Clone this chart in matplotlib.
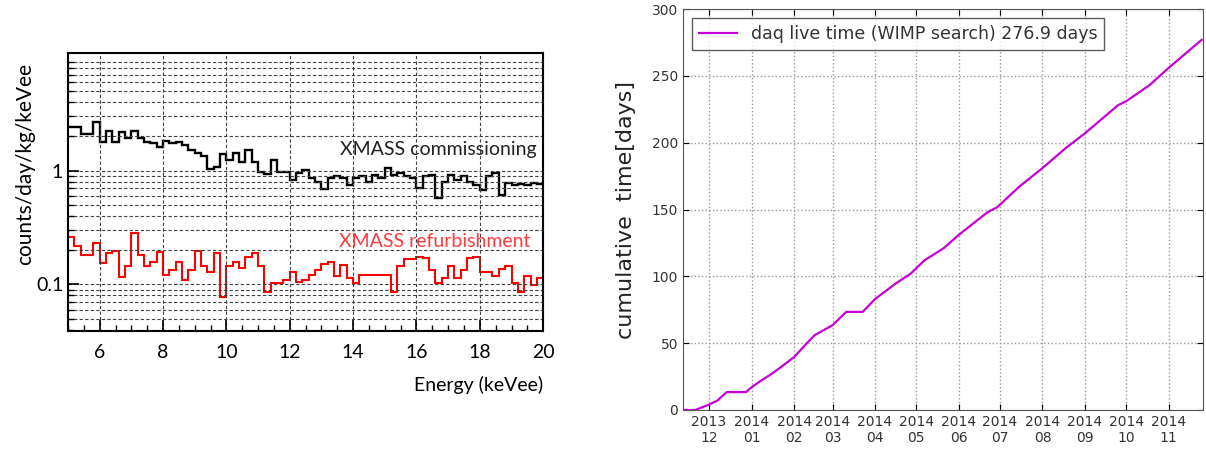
import matplotlib
matplotlib.use("Agg")
import matplotlib.pyplot as plt
import matplotlib.dates as mdates
from matplotlib.ticker import FixedLocator, MultipleLocator, NullFormatter
import numpy as np
import pandas as pd

# === left panel: energy spectra, 0.2 keVee bins from 5 to 20 ===
e_lo, e_hi, e_bin = 5.0, 20.0, 0.2
commissioning = [2.43, 2.43, 2.08, 2.08, 2.69, 1.80, 2.24, 1.80, 2.20, 1.92,
                 2.24, 1.92, 1.80, 1.74, 1.60, 1.83, 1.76, 1.80, 1.68, 1.52,
                 1.44, 1.34, 1.03, 1.08, 1.40, 1.24, 1.42, 1.20, 1.52, 1.20,
                 0.98, 0.93, 1.24, 0.98, 0.98, 0.83, 0.96, 1.01, 0.86, 0.80,
                 0.69, 0.86, 0.89, 0.86, 0.75, 0.86, 0.89, 0.80, 0.92, 0.86,
                 1.05, 0.92, 0.95, 0.89, 0.86, 0.70, 0.89, 0.92, 0.57, 0.80,
                 0.92, 0.83, 0.90, 0.80, 0.75, 0.68, 0.89, 0.95, 0.61, 0.78,
                 0.75, 0.77, 0.75, 0.78, 0.76]
refurbishment = [0.260, 0.218, 0.182, 0.182, 0.233, 0.154, 0.188, 0.195, 0.116, 0.144,
                 0.282, 0.182, 0.144, 0.159, 0.191, 0.122, 0.135, 0.159, 0.110, 0.135,
                 0.195, 0.144, 0.130, 0.188, 0.078, 0.144, 0.156, 0.140, 0.176, 0.190,
                 0.144, 0.085, 0.103, 0.104, 0.110, 0.130, 0.105, 0.110, 0.122, 0.135,
                 0.152, 0.159, 0.118, 0.149, 0.114, 0.103, 0.122, 0.122, 0.122, 0.122,
                 0.122, 0.085, 0.144, 0.167, 0.167, 0.176, 0.170, 0.135, 0.103, 0.114,
                 0.144, 0.114, 0.135, 0.170, 0.176, 0.130, 0.130, 0.118, 0.137, 0.144,
                 0.103, 0.085, 0.118, 0.099, 0.114]

# === right panel: cumulative live time ===
live_dates = ["2013-11-12", "2013-11-21", "2013-12-01", "2013-12-07", "2013-12-14",
              "2013-12-28", "2014-01-01", "2014-01-08", "2014-01-15", "2014-01-21",
              "2014-02-01", "2014-02-10", "2014-02-16", "2014-03-01", "2014-03-11",
              "2014-03-23", "2014-04-01", "2014-04-16", "2014-04-27", "2014-05-07",
              "2014-05-21", "2014-06-01", "2014-06-22", "2014-06-29", "2014-07-15",
              "2014-08-01", "2014-08-18", "2014-09-01", "2014-09-25", "2014-10-01",
              "2014-10-18", "2014-11-01", "2014-11-25"]
live_days = [0, 0, 4, 7, 13.4, 13.4, 17, 22, 26.6, 31,
             39.6, 49.6, 56, 63.4, 73.4, 73.4, 83, 94.6, 102, 112,
             121, 131, 148, 151.7, 167, 181, 196, 207, 228, 231,
             243, 256, 276.9]

fig = plt.figure(figsize=(12.06, 4.49), dpi=100)

# ---------- left ----------
calib = ["Lato", "DejaVu Sans"]
ax1 = fig.add_axes([0.0564, 0.2628, 0.394, 0.619])
edges = e_lo + e_bin * np.arange(len(commissioning) + 1)
ax1.stairs(commissioning, edges, color="black", lw=1.7, baseline=None)
ax1.stairs(refurbishment, edges, color="#ff0000", lw=1.5, baseline=None)
ax1.set_yscale("log")
ax1.set_xlim(e_lo, e_hi)
ax1.set_ylim(0.039, 10.8)

ax1.yaxis.set_major_locator(FixedLocator([0.1, 1]))
ax1.set_yticklabels(["0.1", "1"])
ax1.yaxis.set_minor_locator(FixedLocator(
    [m * 10.0 ** d for d in (-2, -1, 0, 1) for m in range(2, 10)]))
ax1.yaxis.set_minor_formatter(NullFormatter())
ax1.xaxis.set_major_locator(MultipleLocator(2))
ax1.xaxis.set_minor_locator(MultipleLocator(0.5))
ax1.tick_params(which="both", direction="in", labelsize=14)
ax1.tick_params(which="major", length=8, width=1.2)
ax1.tick_params(which="minor", length=4, width=1.0)
ax1.tick_params(axis="x", pad=9)
for lab in ax1.get_xticklabels() + ax1.get_yticklabels():
    lab.set_family(calib)
ax1.grid(True, which="both", axis="y", color="0.25", ls=(0, (3, 2)), lw=0.8)
ax1.grid(True, which="major", axis="x", color="0.25", ls=(0, (3, 2)), lw=0.8)
for s in ax1.spines.values():
    s.set_linewidth(1.5)

ax1.set_ylabel("counts/day/kg/keVee", fontsize=15, family=calib)
ax1.yaxis.set_label_coords(-0.07, 0.6)
ax1.set_xlabel("Energy (keVee)", fontsize=14, family=calib, ha="right")
ax1.xaxis.set_label_coords(1.0, -0.16)
ax1.text(19.8, 1.52, "XMASS commissioning", fontsize=14, family=calib,
         color="#222222", ha="right", va="center")
ax1.text(19.6, 0.24, "XMASS refurbishment", fontsize=14, family=calib,
         color="#ff3b3b", ha="right", va="center")

# ---------- right ----------
ax2 = fig.add_axes([0.5663, 0.0869, 0.4312, 0.893])
dates = pd.to_datetime(live_dates)
ax2.plot(dates, live_days, color="#c800d8", lw=1.6,
         label="daq live time (WIMP search) 276.9 days")
ax2.set_xlim(pd.Timestamp("2013-11-12"), pd.Timestamp("2014-11-26"))
ax2.set_ylim(0, 300)
ax2.yaxis.set_major_locator(MultipleLocator(50))
ax2.xaxis.set_major_locator(mdates.MonthLocator())
ax2.xaxis.set_major_formatter(mdates.DateFormatter("%Y\n%m"))
ax2.tick_params(which="both", direction="in", top=True, right=True,
                labelsize=10, labelcolor="#333333", length=4)
ax2.grid(True, color="0.6", ls=":", lw=1.0)
for lab in ax2.get_xticklabels():
    lab.set_multialignment("center")
for s in ax2.spines.values():
    s.set_color("#555555")
ax2.set_ylabel("cumulative  time[days]", fontsize=16, color="#222222")
ax2.yaxis.set_label_coords(-0.09, 0.5)
leg = ax2.legend(loc="upper left", fontsize=12.5, fancybox=False,
                 borderaxespad=0.5, handlelength=2.2, edgecolor="#333333")
for t in leg.get_texts():
    t.set_color("#333333")

fig.savefig("out.png", dpi=100)
